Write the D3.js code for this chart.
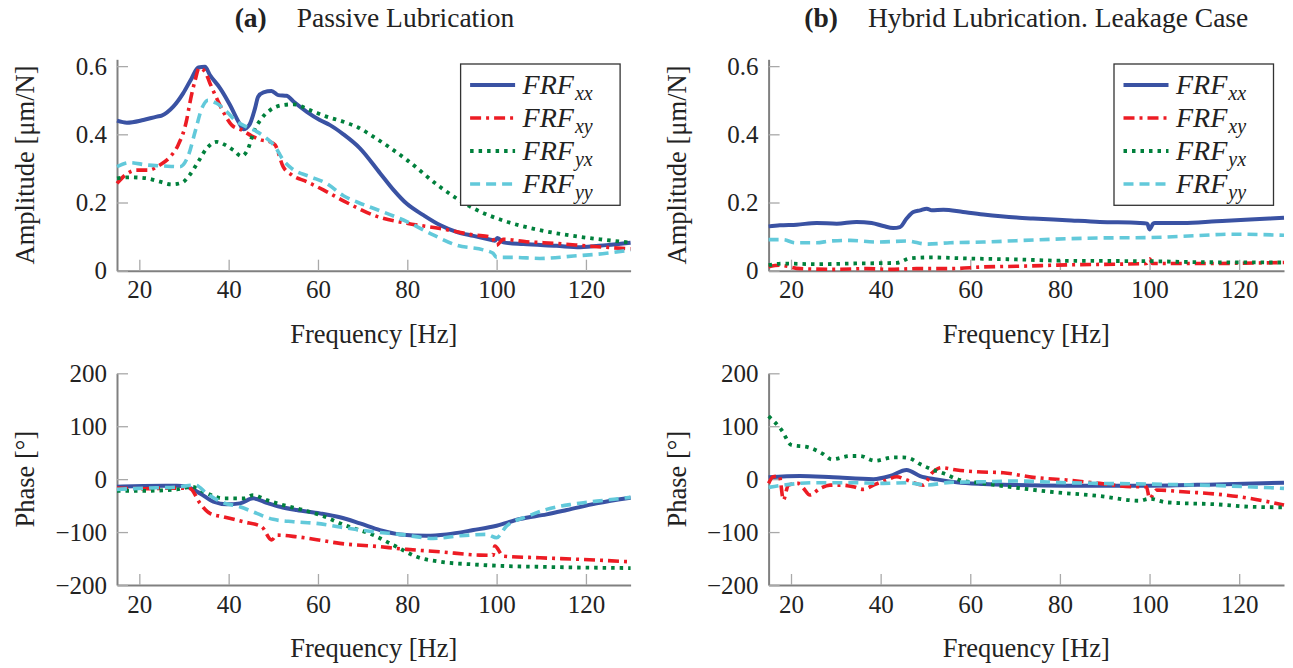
<!DOCTYPE html>
<html>
<head>
<meta charset="utf-8">
<script src="https://cdn.jsdelivr.net/npm/d3@7"></script>
<style>
  body { margin: 0; background: #fff; }
  svg text { font-family: "Liberation Serif", "Times New Roman", serif; fill: #222; }
</style>
</head>
<body>
<div id="chart"></div>
<script>
// frequency axis
const freqTicks = [20, 40, 60, 80, 100, 120];
const ampTicks = [0, 0.2, 0.4, 0.6];
const phaseTicks = [-200, -100, 0, 100, 200];
const seriesNames = ["xx", "xy", "yx", "yy"];

// (a) passive lubrication, amplitude [um/N]  -> [Hz, value]
const ampPassiveXX = [[15,0.44],[17.2,0.434],[20.9,0.442],[23.9,0.452],[25,0.455],[27.6,0.481],[29.8,0.52],[31.7,0.564],[33.2,0.596],[34.7,0.598],[35.8,0.574],[38.1,0.535],[40.3,0.486],[42.2,0.437],[43.3,0.415],[44.6,0.427],[45.9,0.476],[46.6,0.51],[47.8,0.523],[49.6,0.527],[51.1,0.515],[53,0.513],[54.5,0.496],[57.5,0.466],[60.4,0.442],[62.7,0.427],[65.7,0.4],[69.4,0.359],[73.9,0.286],[76.9,0.237],[79.9,0.196],[83.6,0.163],[87.3,0.134],[91,0.114],[94.8,0.102],[98.9,0.09],[99.6,0.088],[100.2,0.096],[101.5,0.083],[106,0.078],[113.4,0.073],[118.7,0.069],[124.6,0.075],[130,0.082]];
const ampPassiveXY = [[15,0.256],[16.8,0.28],[19.4,0.295],[22,0.295],[24.6,0.31],[26.9,0.334],[28.7,0.369],[30.6,0.442],[31.3,0.491],[32.5,0.559],[33.4,0.594],[34.7,0.584],[35.8,0.55],[37.3,0.506],[38.8,0.466],[40.7,0.427],[42.9,0.413],[45.2,0.395],[47.4,0.383],[49.3,0.378],[50.4,0.369],[52.2,0.305],[54.1,0.281],[57.5,0.261],[61.2,0.237],[65.7,0.205],[68.7,0.185],[72.4,0.163],[79.9,0.139],[87.3,0.124],[94.8,0.105],[98.9,0.098],[100,0.075],[101.5,0.092],[106.7,0.085],[113.4,0.08],[120.9,0.072],[130,0.064]];
const ampPassiveYX = [[15,0.271],[17.9,0.274],[21.6,0.271],[24.6,0.261],[27.2,0.253],[29.5,0.258],[31.3,0.281],[33.2,0.32],[35.1,0.359],[37.3,0.378],[39.2,0.369],[41,0.354],[42.9,0.336],[44.4,0.359],[45.5,0.403],[47.4,0.447],[49.3,0.471],[52.2,0.486],[54.5,0.488],[58.2,0.471],[61.9,0.452],[65.7,0.437],[69,0.42],[72.4,0.393],[79.9,0.325],[87.3,0.246],[94.8,0.183],[102.2,0.144],[109.7,0.119],[117.2,0.102],[124.6,0.09],[130,0.082]];
const ampPassiveYY = [[15,0.305],[17.9,0.317],[21.6,0.31],[25.4,0.307],[29.1,0.305],[31,0.339],[32.5,0.408],[34,0.476],[35.4,0.5],[37.3,0.491],[39.6,0.466],[41.4,0.442],[44,0.422],[46.3,0.408],[48.5,0.388],[50.4,0.364],[52.2,0.325],[54.1,0.3],[58.2,0.276],[61.9,0.256],[65.7,0.22],[69,0.2],[72.4,0.183],[79.9,0.144],[85.8,0.105],[91,0.075],[97,0.061],[99.2,0.051],[100,0.039],[103.7,0.039],[109.7,0.036],[117.2,0.043],[124.6,0.051],[130,0.061]];

// (b) hybrid lubrication, amplitude
const ampHybridXX = [[15,0.13],[17.5,0.133],[21.3,0.135],[25.7,0.14],[30.2,0.138],[34.6,0.143],[38,0.14],[40.6,0.131],[42.8,0.125],[44.3,0.128],[45.8,0.153],[47.3,0.172],[48.8,0.177],[50.3,0.182],[51.4,0.177],[54,0.179],[58.4,0.172],[62.9,0.165],[70.3,0.156],[74,0.153],[81.5,0.148],[88.9,0.143],[97.8,0.14],[99.5,0.138],[100,0.121],[100.8,0.138],[101.2,0.14],[107.5,0.14],[114.9,0.145],[122.4,0.15],[130,0.155]];
const ampHybridXY = [[15,0.012],[17.5,0.016],[22,0.006],[29.4,0.004],[36.9,0.006],[42.1,0.004],[48,0.006],[55.5,0.006],[62.9,0.011],[70.3,0.013],[81.5,0.017],[99.3,0.021],[100,0.035],[100.7,0.021],[111.2,0.021],[130,0.024]];
const ampHybridYX = [[15,0.016],[18.3,0.021],[25.7,0.019],[33.2,0.021],[43.6,0.023],[46.5,0.036],[51,0.039],[59.2,0.036],[70.3,0.033],[81.5,0.029],[99.3,0.028],[111.2,0.025],[130,0.024]];
const ampHybridYY = [[15,0.091],[18.3,0.091],[20.9,0.082],[25.7,0.082],[28.7,0.087],[33.2,0.089],[39.1,0.084],[45.8,0.087],[50.3,0.078],[55.5,0.082],[62.9,0.084],[70.3,0.088],[77.8,0.092],[88.9,0.096],[99.3,0.097],[107.5,0.101],[118.7,0.107],[130,0.104]];

// (a) passive lubrication, phase [deg]
const phPassiveXX = [[15,-14.3],[20.9,-13],[28.4,-12.4],[30.6,-14.3],[33.6,-26.9],[36.6,-42.7],[39.6,-47.6],[42.5,-45.8],[45.5,-36.3],[48.5,-44.6],[51.5,-52.2],[55.2,-58.4],[60.4,-64.7],[64.9,-72],[69.4,-83.6],[73.9,-96.2],[78.4,-104.4],[84.3,-107],[88.8,-104.4],[94.8,-96.2],[100,-88],[105.2,-75.4],[111.2,-66.5],[115.7,-58.4],[122.4,-45.8],[130,-35.2]];
const phPassiveXY = [[15,-17],[21,-18],[28.4,-17],[31.3,-17.4],[33.6,-45.8],[35.8,-64.7],[38.8,-71],[43.3,-80.5],[47.4,-90],[49.6,-115],[50.8,-105.7],[55.2,-108.9],[61.2,-116.4],[64.9,-121.4],[72.4,-126.5],[79.9,-132.7],[87.3,-137.2],[96.2,-143.5],[99.2,-143.8],[99.6,-126.5],[101.5,-145.4],[109.7,-148.6],[117.2,-151],[130,-156.1]];
const phPassiveYX = [[15,-21.9],[21,-22],[28.4,-19.5],[31.7,-14.3],[35.1,-26.9],[38.8,-36.3],[43.3,-36.3],[45.5,-30],[48.5,-39.5],[52.2,-49],[56.7,-58.4],[61.2,-70],[65.7,-86],[72.4,-105.7],[77.6,-127.8],[82.1,-146.7],[87.3,-156.1],[94.8,-161.1],[102.2,-164.3],[109.7,-165.6],[117.2,-166.8],[130,-168]];
const phPassiveYY = [[15,-19.3],[21,-17],[28.4,-15],[32.5,-11.2],[35.1,-26.9],[38.8,-44.6],[42.5,-52.2],[46.3,-64.7],[50,-76],[54.5,-80.5],[59.7,-83.6],[64.9,-90.5],[72.4,-99.4],[78.4,-104.4],[85.8,-112],[91.8,-107],[97.8,-104.4],[100,-110.7],[102.2,-88.7],[106.7,-71],[111.2,-57.1],[117.2,-47],[124.6,-39.5],[130,-34.4]];

// (b) hybrid lubrication, phase
const phHybridXX = [[15,3.4],[22,5.9],[29.4,3.4],[38.4,0],[42.1,5.9],[45.8,17.2],[48.8,5.9],[52.5,-0.4],[57,-6.1],[62.9,-9.3],[70.3,-11.2],[81.5,-12.4],[100,-12.4],[114.9,-9.9],[130,-6.7]];
const phHybridXY = [[15,-8],[16,4.5],[17.4,5.9],[18.3,-39.5],[19.4,-11.2],[21.6,-8],[22.8,-17.4],[24.2,-30],[26.5,-17.4],[28.7,-11.2],[30.9,-11.2],[33.9,-14.3],[36.1,-19.3],[38.4,-11.2],[41.3,-1.7],[43.6,4.5],[45.8,-1.7],[49.5,-11.2],[51.4,11],[53.6,21.6],[57,17.2],[61.4,14],[67.4,12],[74,3.4],[81.5,-1.7],[88.9,-8],[96.3,-14.3],[99.3,-14.3],[100,-36.3],[101.6,-20.6],[107.5,-23.8],[114.9,-28.2],[122.4,-36.3],[130,-49]];
const phHybridYX = [[15,119],[17.9,92.8],[20.1,64.5],[23.9,60],[27.2,47.4],[29.1,37.4],[33.2,43.7],[35.4,43.7],[38.7,34.8],[42.8,41.2],[45,41.2],[46.5,39.3],[48.8,28.5],[51.4,18.5],[54,11],[57.7,-1.7],[62.9,-7.9],[69.6,-15.5],[77.8,-23.8],[88.9,-31.9],[97.8,-40.8],[100,-37],[103.8,-43.9],[114.9,-47.6],[122.4,-52.2],[130,-53.3]];
const phHybridYY = [[15,-15.5],[18.3,-11.2],[25.7,-6.7],[33.2,-6.7],[40.6,-8],[45.8,-6.7],[50.3,-11.2],[55.5,-6.1],[62.9,-4.9],[70.3,-3.6],[81.5,-6.7],[99.3,-9.3],[111.2,-11.2],[130,-17.4]];

// line styles per FRF component
const styles = {
  xx: { color: "#3a52a3", width: 4, dash: null },
  xy: { color: "#ed1c24", width: 3.6, dash: "11,5,3,5" },
  yx: { color: "#00803c", width: 3.8, dash: "3.5,5" },
  yy: { color: "#62c9da", width: 3.6, dash: "10,6" }
};

const svg = d3.select("#chart").append("svg")
  .attr("width", 1293).attr("height", 668);

const xLeft = d3.scaleLinear().domain([15, 130]).range([117, 630.6]);
const xRight = d3.scaleLinear().domain([15, 130]).range([768.6, 1284]);
const yAmp = d3.scaleLinear().domain([0, 0.62]).range([270.7, 59.3]);
const yPh = d3.scaleLinear().domain([-200, 200]).range([585, 373.3]);

function drawPanel(x, y, yTicks, yFmt, ylabel, data, legend) {
  var g = svg.append("g");
  var x0 = x.range()[0], x1 = x.range()[1];
  var yb = y.range()[0], yt = y.range()[1];

  var xa = g.append("g").attr("transform", "translate(0," + yb + ")")
    .call(d3.axisBottom(x).tickValues(freqTicks).tickSize(-11).tickSizeOuter(0).tickPadding(10));
  var ya = g.append("g").attr("transform", "translate(" + x0 + ",0)")
    .call(d3.axisLeft(y).tickValues(yTicks).tickFormat(yFmt).tickSize(-11).tickSizeOuter(0).tickPadding(10));
  [xa, ya].forEach(function (a) {
    a.attr("font-family", null);
    a.select(".domain").attr("stroke", "#808080").attr("stroke-width", 2);
    a.selectAll(".tick line").attr("stroke", "#a9a9a9").attr("stroke-width", 1.3);
    a.selectAll(".tick text").attr("font-size", 25).attr("fill", "#222");
  });

  var line = d3.line().x(d => x(d[0])).y(d => y(d[1])).curve(d3.curveMonotoneX);
  seriesNames.forEach(function (k) {
    var s = styles[k];
    g.append("path")
      .datum(data[k])
      .attr("d", line)
      .attr("fill", "none")
      .attr("stroke", s.color)
      .attr("stroke-width", s.width)
      .attr("stroke-dasharray", s.dash)
      .attr("stroke-linejoin", "round");
  });

  // axis labels
  g.append("text")
    .attr("x", (x0 + x1) / 2).attr("y", yb + 72)
    .attr("text-anchor", "middle").attr("font-size", 26.5)
    .text("Frequency [Hz]");
  g.append("text")
    .attr("transform", "translate(" + (x0 - 83) + "," + (yb + yt) / 2 + ") rotate(-90)")
    .attr("text-anchor", "middle").attr("font-size", 26.5)
    .text(ylabel);

  if (legend) {
    var lx = x1 - 170, ly = yt + 4.7;
    var lg = g.append("g").attr("transform", "translate(" + lx + "," + ly + ")");
    lg.append("rect").attr("width", 159.5).attr("height", 141.3)
      .attr("fill", "#fff").attr("stroke", "#333").attr("stroke-width", 1.3);
    seriesNames.forEach(function (k, i) {
      var s = styles[k], yy = 21 + i * 33;
      lg.append("line").attr("x1", 9.5).attr("x2", 54.5).attr("y1", yy).attr("y2", yy)
        .attr("stroke", s.color).attr("stroke-width", s.width).attr("stroke-dasharray", s.dash);
      var t = lg.append("text").attr("x", 62).attr("y", yy + 9)
        .attr("font-size", 28).attr("font-style", "italic");
      t.append("tspan").text("FRF");
      t.append("tspan").attr("font-size", 20).attr("dy", 6).attr("dx", 1).text(k);
    });
  }
}

const fmtAmp = d => d === 0 ? "0" : d3.format(".1f")(d);
const fmtPh = d3.format("d");

drawPanel(xLeft, yAmp, ampTicks, fmtAmp, "Amplitude [\u03bcm/N]",
  { xx: ampPassiveXX, xy: ampPassiveXY, yx: ampPassiveYX, yy: ampPassiveYY }, true);
drawPanel(xRight, yAmp, ampTicks, fmtAmp, "Amplitude [\u03bcm/N]",
  { xx: ampHybridXX, xy: ampHybridXY, yx: ampHybridYX, yy: ampHybridYY }, true);
drawPanel(xLeft, yPh, phaseTicks, fmtPh, "Phase [\u00b0]",
  { xx: phPassiveXX, xy: phPassiveXY, yx: phPassiveYX, yy: phPassiveYY }, false);
drawPanel(xRight, yPh, phaseTicks, fmtPh, "Phase [\u00b0]",
  { xx: phHybridXX, xy: phHybridXY, yx: phHybridYX, yy: phHybridYY }, false);

// panel titles
function title(cx, tag, label) {
  var t = svg.append("text").attr("x", cx).attr("y", 27)
    .attr("text-anchor", "middle").attr("font-size", 27.5);
  t.append("tspan").attr("font-weight", "bold").text(tag);
  t.append("tspan").attr("dx", 30).text(label);
}
title(374.5, "(a)", "Passive Lubrication");
title(1026.3, "(b)", "Hybrid Lubrication. Leakage Case");
</script>
</body>
</html>
